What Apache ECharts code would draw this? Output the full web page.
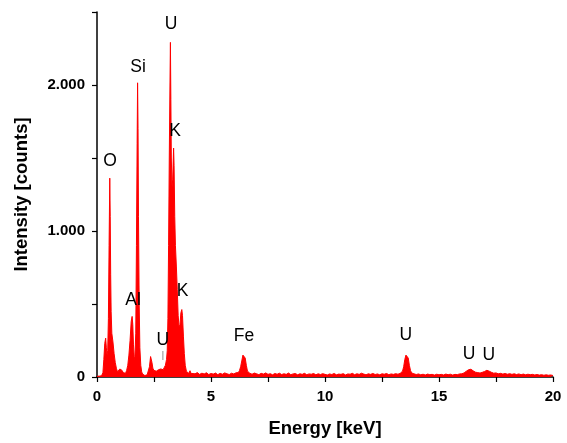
<!DOCTYPE html>
<html>
<head>
<meta charset="utf-8">
<script src="https://cdn.jsdelivr.net/npm/echarts@6/dist/echarts.min.js"></script>
<style>
  html, body { margin: 0; padding: 0; background: #fff; }
  #chart { width: 567px; height: 443px; }
</style>
</head>
<body>
<div id="chart"></div>
<script>
// spectrum: [energy keV, counts]
var lowRegion = [
  [0.00, 5], [0.10, 6], [0.20, 8], [0.26, 30], [0.30, 120], [0.34, 230], [0.38, 266],
  [0.41, 200], [0.44, 150], [0.47, 180], [0.50, 400], [0.53, 900], [0.56, 1362],
  [0.58, 1100], [0.60, 700], [0.62, 450], [0.65, 300], [0.70, 240], [0.75, 160],
  [0.80, 100], [0.85, 60], [0.90, 35], [0.95, 42], [1.00, 55], [1.05, 60], [1.10, 45],
  [1.15, 30], [1.20, 20], [1.25, 25], [1.30, 45], [1.35, 80], [1.40, 150], [1.45, 250],
  [1.50, 380], [1.54, 415], [1.57, 360], [1.60, 220], [1.63, 140], [1.66, 120],
  [1.70, 300], [1.73, 900], [1.76, 1600], [1.78, 2015], [1.80, 1700], [1.82, 1100],
  [1.85, 500], [1.88, 200], [1.92, 80], [1.96, 35], [2.00, 20], [2.05, 12], [2.10, 10],
  [2.15, 12], [2.20, 15], [2.25, 25], [2.30, 70], [2.35, 140], [2.38, 146], [2.41, 100],
  [2.45, 60], [2.50, 45], [2.55, 35], [2.60, 40], [2.65, 45], [2.70, 50], [2.75, 40],
  [2.80, 55], [2.85, 60], [2.90, 50], [2.95, 65], [3.00, 80], [3.05, 120], [3.08, 180],
  [3.11, 400], [3.14, 900], [3.17, 1500], [3.20, 2000], [3.22, 2292], [3.24, 1900],
  [3.26, 1500], [3.29, 1300], [3.32, 1350], [3.36, 1568], [3.38, 1450], [3.41, 1100],
  [3.44, 900], [3.48, 760], [3.52, 600], [3.56, 420], [3.60, 340], [3.64, 360],
  [3.68, 440], [3.72, 462], [3.75, 420], [3.79, 280], [3.83, 160], [3.87, 80],
  [3.92, 40], [3.97, 30], [4.02, 25], [4.08, 43], [4.12, 25]
];

var midRegion = [
  [4.2, 28], [4.3, 22], [4.4, 30], [4.5, 18], [4.6, 26], [4.7, 21], [4.8, 29], [4.9, 17],
  [5.0, 24], [5.1, 20], [5.2, 27], [5.3, 16], [5.4, 25], [5.5, 19], [5.6, 28], [5.7, 22],
  [5.8, 17], [5.9, 26], [6.0, 21], [6.1, 29], [6.2, 30], [6.25, 45], [6.3, 70],
  [6.35, 110], [6.4, 150], [6.45, 163], [6.5, 130], [6.55, 80], [6.6, 40], [6.7, 26],
  [6.8, 19], [6.9, 27], [7.0, 22], [7.1, 16], [7.2, 25], [7.3, 20], [7.4, 28], [7.5, 18],
  [7.6, 23], [7.7, 15], [7.8, 24], [7.9, 19], [8.0, 26], [8.1, 17], [8.2, 22], [8.3, 18],
  [8.4, 27], [8.5, 16], [8.6, 21], [8.7, 24], [8.8, 15], [8.9, 22], [9.0, 18], [9.1, 25],
  [9.2, 16], [9.3, 21], [9.4, 19], [9.5, 24], [9.6, 15], [9.7, 22], [9.8, 17], [9.9, 23],
  [10.0, 18], [10.1, 14], [10.2, 21], [10.3, 17], [10.4, 24], [10.5, 15], [10.6, 20],
  [10.7, 18], [10.8, 23], [10.9, 14], [11.0, 21], [11.1, 19], [11.2, 25], [11.3, 16],
  [11.4, 22], [11.5, 18], [11.6, 26], [11.7, 20], [11.8, 15], [11.9, 22], [12.0, 18],
  [12.1, 24], [12.2, 17], [12.3, 21], [12.4, 15], [12.5, 22], [12.6, 19], [12.7, 24],
  [12.8, 16], [12.9, 21], [13.0, 18], [13.1, 23], [13.2, 19]
];

var highRegion = [
  [13.3, 25], [13.4, 40], [13.45, 70], [13.5, 120], [13.55, 150], [13.6, 155],
  [13.65, 130], [13.7, 80], [13.75, 45], [13.8, 28], [13.9, 22], [14.0, 17], [14.1, 21],
  [14.2, 15], [14.3, 19], [14.4, 14], [14.5, 20], [14.6, 16], [14.7, 18], [14.8, 13],
  [14.9, 19], [15.0, 15], [15.1, 18], [15.2, 14], [15.3, 20], [15.4, 16], [15.5, 19],
  [15.6, 13], [15.7, 18], [15.8, 16], [15.9, 21], [16.0, 22], [16.1, 28], [16.2, 40],
  [16.3, 50], [16.4, 53], [16.5, 42], [16.6, 33], [16.7, 30], [16.8, 27], [16.9, 32],
  [17.0, 38], [17.1, 46], [17.15, 48], [17.2, 40], [17.3, 32], [17.4, 26], [17.5, 28],
  [17.6, 22], [17.7, 25], [17.8, 20], [17.9, 24], [18.0, 19], [18.1, 23], [18.2, 18],
  [18.3, 22], [18.4, 17], [18.5, 21], [18.6, 16], [18.7, 20], [18.8, 15], [18.9, 19],
  [19.0, 16], [19.1, 18], [19.2, 14], [19.3, 17], [19.4, 13], [19.5, 16], [19.6, 12],
  [19.7, 15], [19.8, 12], [19.9, 14], [20.0, 10]
];

// peak annotations: name, energy, counts where the text sits
var peakNames = ['O', 'Si', 'U', 'K', 'Al', 'K', 'U', 'Fe', 'U', 'U', 'U'];
var peakEnergy = [0.57, 1.80, 3.25, 3.42, 1.58, 3.75, 2.89, 6.45, 13.55, 16.32, 17.19];
var peakCounts = [1479, 2123, 2418, 1685, 527, 589, 253, 281, 288, 158, 151];
// small marker line under the U at 2.9 keV
var markerEnergy = [2.89];
var markerCounts = [147];

var xTicks = [0, 5, 10, 15, 20];
var yTicks = [0, 1000, 2000];

var spectrum = lowRegion.concat(midRegion, highRegion);
var peakData = peakNames.map(function (n, i) {
  return { name: n, value: [peakEnergy[i], peakCounts[i]] };
});
var markerData = markerEnergy.map(function (e, i) {
  return { name: '|', value: [e, markerCounts[i]] };
});

function fmtThousands(v) {
  if (v < 1000) return String(v);
  var t = Math.floor(v / 1000), r = String(v % 1000);
  while (r.length < 3) r = '0' + r;
  return t + '.' + r;
}

var chart = echarts.init(document.getElementById('chart'), null, { renderer: 'canvas' });

var fontFam = 'Liberation Sans, Arial, sans-serif';
var axisFont = { fontFamily: fontFam, fontWeight: 'bold', color: '#000' };

chart.setOption({
  backgroundColor: '#ffffff',
  animation: false,
  grid: { left: 97, right: 14, top: 12, bottom: 66 },
  xAxis: {
    type: 'value',
    min: 0,
    max: 20,
    interval: 2.5,
    name: 'Energy [keV]',
    nameLocation: 'middle',
    nameGap: 42,
    nameTextStyle: Object.assign({ fontSize: 18.5 }, axisFont),
    axisLine: { onZero: false, lineStyle: { color: '#000', width: 1.5 } },
    axisTick: { length: 5, lineStyle: { color: '#000', width: 1.2 } },
    axisLabel: Object.assign({
      fontSize: 15,
      margin: 12,
      formatter: function (v) { return xTicks.indexOf(v) >= 0 ? String(v) : ''; }
    }, axisFont),
    splitLine: { show: false }
  },
  yAxis: {
    type: 'value',
    min: 0,
    max: 2500,
    interval: 500,
    name: 'Intensity [counts]',
    nameLocation: 'middle',
    nameGap: 66,
    nameTextStyle: Object.assign({ fontSize: 18.5 }, axisFont),
    axisLine: { show: true, lineStyle: { color: '#000', width: 1.5 } },
    axisTick: { show: true, length: 5, lineStyle: { color: '#000', width: 1.2 } },
    axisLabel: Object.assign({
      fontSize: 15,
      margin: 12,
      formatter: function (v) { return yTicks.indexOf(v) >= 0 ? fmtThousands(v) : ''; }
    }, axisFont),
    splitLine: { show: false }
  },
  series: [
    {
      type: 'line',
      data: spectrum,
      showSymbol: false,
      symbol: 'none',
      lineStyle: { color: '#ff0000', width: 1 },
      areaStyle: { color: '#ff0000', opacity: 1 },
      z: 2
    },
    {
      type: 'scatter',
      data: peakData,
      symbolSize: 0,
      itemStyle: { color: '#000' },
      label: {
        show: true,
        position: 'inside',
        formatter: '{b}',
        fontFamily: fontFam,
        fontSize: 17.5,
        color: '#000',
        textBorderWidth: 0,
        opacity: 1
      },
      z: 3
    },
    {
      type: 'scatter',
      data: markerData,
      symbolSize: 0,
      itemStyle: { color: '#000' },
      label: {
        show: true,
        position: 'inside',
        formatter: '{b}',
        fontFamily: fontFam,
        fontSize: 9,
        color: '#444',
        textBorderWidth: 0
      },
      z: 3
    }
  ]
});
</script>
</body>
</html>
